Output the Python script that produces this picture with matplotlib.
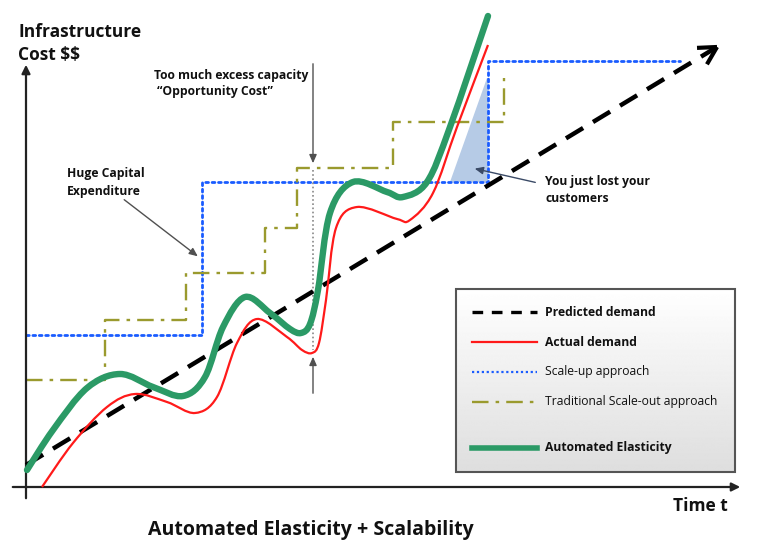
import numpy as np
import matplotlib
matplotlib.use("Agg")
import matplotlib.pyplot as plt
from matplotlib.patches import Polygon, Rectangle, PathPatch
from matplotlib.path import Path

plt.rcParams["text.parse_math"] = False

# ---------------- data (pixel space of the diagram) ----------------
predicted_x = [26, 717]
predicted_y = [465, 47]

actual_x = [42, 73, 107, 135, 167, 195, 217, 237, 257, 287, 302, 312, 319, 326, 336,
            357, 397, 410, 433, 457, 488]
actual_y = [487, 443, 407, 394, 402, 413, 397, 343, 319, 337, 350, 353, 343, 300, 228,
            207, 219, 220, 193, 127, 45]

elastic_x = [27, 53, 87, 120, 153, 183, 205, 223, 245, 270, 290, 301, 310, 318, 330,
             353, 387, 403, 427, 450, 488]
elastic_y = [470, 430, 388, 374, 387, 396, 377, 327, 297, 313, 329, 333, 324, 290, 213,
             182, 192, 197, 182, 127, 16]

scaleup_x = [26, 202, 202, 488, 488, 680]
scaleup_y = [335, 335, 182, 182, 61, 61]

scaleout_x = [26, 105, 105, 186, 186, 265, 265, 297, 297, 393, 393, 504, 504]
scaleout_y = [380, 380, 320, 320, 273, 273, 228, 228, 168, 168, 122, 122, 78]

lost_x = [450, 487, 488, 488]
lost_y = [182, 78, 78, 182]

legend_labels = ["Predicted demand", "Actual demand", "Scale-up approach",
                 "Traditional Scale-out approach", "Automated Elasticity"]

# ---------------- figure ----------------
W, H = 769, 547
fig = plt.figure(figsize=(W / 100, H / 100), dpi=100)
ax = fig.add_axes([0, 0, 1, 1])
ax.set_xlim(0, W)
ax.set_ylim(H, 0)
ax.axis("off")

FONT = "Open Sans"
GREEN = "#2b9a66"
RED = "#ff1a1a"
BLUE = "#1a5cff"
OLIVE = "#9a9a2e"
GRAY = "#505050"


def smooth_path(xs, ys):
    """Bezier path passing through the given points (Catmull-Rom tangents)."""
    P = np.column_stack([xs, ys]).astype(float)
    n = len(P)
    verts = [P[0]]
    codes = [Path.MOVETO]
    for i in range(n - 1):
        p0 = P[i - 1] if i > 0 else P[i]
        p1, p2 = P[i], P[i + 1]
        p3 = P[i + 2] if i + 2 < n else P[i + 1]
        verts += [p1 + (p2 - p0) / 6.0, p2 - (p3 - p1) / 6.0, p2]
        codes += [Path.CURVE4] * 3
    return Path(verts, codes)


# axes
ax.annotate("", xy=(26, 62), xytext=(26, 501),
            arrowprops=dict(arrowstyle="-|>,head_length=0.5,head_width=0.25", color="#222222", lw=1.6))
ax.annotate("", xy=(743, 487), xytext=(10, 487),
            arrowprops=dict(arrowstyle="-|>,head_length=0.5,head_width=0.25", color="#222222", lw=1.6))

# lost customers triangle
ax.add_patch(Polygon(np.column_stack([lost_x, lost_y]), closed=True,
                     facecolor="#a9c2e2", edgecolor="none", alpha=0.85, zorder=1))

# step lines
ax.plot(scaleup_x, scaleup_y, color=BLUE, lw=2.0, linestyle=(0, (1, 1.3)),
        dash_capstyle="round", zorder=2)
ax.plot(scaleout_x, scaleout_y, color=OLIVE, lw=1.7, linestyle=(0, (7, 3, 1.5, 3)), zorder=2)

# predicted demand
ax.plot(predicted_x, predicted_y, color="black", lw=3.2, linestyle=(0, (4.5, 2.6)), zorder=4)
dx, dy = predicted_x[1] - predicted_x[0], predicted_y[1] - predicted_y[0]
ang = np.arctan2(dy, dx)
for s in (+1, -1):
    a = ang + np.pi + s * 0.5
    ax.plot([predicted_x[1], predicted_x[1] + 20 * np.cos(a)],
            [predicted_y[1], predicted_y[1] + 20 * np.sin(a)],
            color="black", lw=3.0, solid_capstyle="butt", zorder=4)

# curves
ax.add_patch(PathPatch(smooth_path(elastic_x, elastic_y), fill=False, edgecolor=GREEN,
                       lw=4.6, capstyle="round", joinstyle="round", zorder=5))
ax.add_patch(PathPatch(smooth_path(actual_x, actual_y), fill=False, edgecolor=RED,
                       lw=1.6, joinstyle="round", zorder=6))

# opportunity cost arrows and dotted line
ax.plot([313, 313], [170, 350], color="#888888", lw=1.2, linestyle=(0, (1, 1.5)), zorder=3)
ax.annotate("", xy=(313, 166), xytext=(313, 61),
            arrowprops=dict(arrowstyle="-|>,head_length=0.5,head_width=0.22", color=GRAY, lw=1.0))
ax.annotate("", xy=(313, 354), xytext=(313, 396),
            arrowprops=dict(arrowstyle="-|>,head_length=0.5,head_width=0.22", color=GRAY, lw=1.0))
ax.annotate("", xy=(200, 258), xytext=(122, 198),
            arrowprops=dict(arrowstyle="-|>,head_length=0.5,head_width=0.22", color=GRAY, lw=1.0))
ax.annotate("", xy=(472, 168), xytext=(538, 183),
            arrowprops=dict(arrowstyle="-|>,head_length=0.5,head_width=0.22", color="#3a4a66", lw=1.0))

# texts
tk = dict(fontfamily=FONT, fontweight="bold", color="#111111")
ax.text(18, 32, "Infrastructure", fontsize=12.5, va="center", ha="left", **tk)
ax.text(18, 55, "Cost $$", fontsize=12.5, va="center", ha="left", **tk)
ax.text(154, 75, "Too much excess capacity", fontsize=8.7, va="center", ha="left", **tk)
ax.text(157, 92, "\u201cOpportunity Cost\u201d", fontsize=8.7, va="center", ha="left", **tk)
ax.text(67, 174, "Huge Capital", fontsize=8.7, va="center", ha="left", **tk)
ax.text(67, 191, "Expenditure", fontsize=8.7, va="center", ha="left", **tk)
ax.text(545, 182, "You just lost your", fontsize=8.7, va="center", ha="left", **tk)
ax.text(545, 198, "customers", fontsize=8.7, va="center", ha="left", **tk)
ax.text(673, 506, "Time t", fontsize=12.5, va="center", ha="left", **tk)
ax.text(311, 530, "Automated Elasticity + Scalability", fontsize=14, va="center", ha="center", **tk)

# legend box with gradient
lx0, ly0, lx1, ly1 = 456, 289, 735, 472
grad = np.linspace(1.0, 0.87, 200).reshape(-1, 1)
ax.imshow(grad, cmap="gray", vmin=0, vmax=1, extent=(lx0, lx1, ly1, ly0),
          aspect="auto", zorder=7, interpolation="bilinear")
ax.add_patch(Rectangle((lx0, ly0), lx1 - lx0, ly1 - ly0, fill=False,
                       edgecolor="#555555", lw=1.5, zorder=8))
ax.set_xlim(0, W)
ax.set_ylim(H, 0)

rows = [312, 342, 372, 402, 448]
sx0, sx1 = 472, 537
styles = [
    dict(color="black", lw=2.4, linestyle=(0, (3.2, 2.6))),
    dict(color=RED, lw=1.6),
    dict(color=BLUE, lw=1.6, linestyle=(0, (1, 1.2))),
    dict(color=OLIVE, lw=1.7, linestyle=(0, (7, 3, 1.5, 3))),
    dict(color=GREEN, lw=4.0),
]
weights = ["bold", "bold", "normal", "normal", "bold"]
for y, lab, st, wgt in zip(rows, legend_labels, styles, weights):
    ax.plot([sx0, sx1], [y, y], zorder=9, **st)
    ax.text(545, y, lab, fontsize=8.7, va="center", ha="left", fontfamily=FONT,
            fontweight=wgt, color="#111111", zorder=9)

fig.savefig("out.png", dpi=100)
